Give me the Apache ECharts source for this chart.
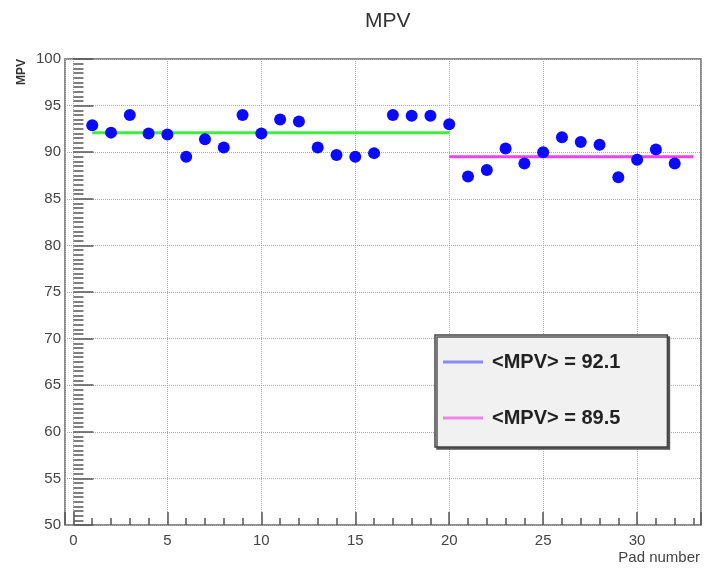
<!DOCTYPE html>
<html>
<head>
<meta charset="utf-8">
<script src="https://cdn.jsdelivr.net/npm/echarts@6/dist/echarts.min.js"></script>
<style>
    html, body { margin: 0; padding: 0; background: #fff; }
    #main { width: 704px; height: 570px; }
</style>
</head>
<body>
<div id="main"></div>
<script>
    // pad number -> MPV
    const padNumbers = [1, 2, 3, 4, 5, 6, 7, 8, 9, 10, 11, 12, 13, 14, 15, 16,
        17, 18, 19, 20, 21, 22, 23, 24, 25, 26, 27, 28, 29, 30, 31, 32];
    const mpvValues = [92.9, 92.1, 94.0, 92.0, 91.9, 89.5, 91.4, 90.5, 94.0, 92.0, 93.5, 93.3, 90.5, 89.7, 89.5, 89.9,
        94.0, 93.9, 93.9, 93.0, 87.4, 88.1, 90.4, 88.8, 90.0, 91.6, 91.1, 90.8, 87.3, 89.2, 90.3, 88.8];

    // fitted means and where they are drawn
    const meanValues = [92.1, 89.5];
    const fitFrom = [1, 20];
    const fitTo = [20, 33];
    const meanNames = ['<MPV> = 92.1', '<MPV> = 89.5'];
    const meanColors = ['#3fee3f', '#f040f0'];
    const legendColors = ['#8a8af0', '#ea88ea'];

    const font = 'Liberation Sans, Arial, sans-serif';
    const chart = echarts.init(document.getElementById('main'));

    const meanSeries = meanValues.map((v, i) => ({
        name: meanNames[i],
        type: 'line',
        data: [[fitFrom[i], v], [fitTo[i], v]],
        showSymbol: false,
        lineStyle: { color: meanColors[i], width: 3 },
        itemStyle: { color: meanColors[i] },
        z: 2
    }));

    const option = {
        animation: false,
        title: {
            text: 'MPV',
            left: 360,
            top: 6,
            textStyle: { fontFamily: font, fontSize: 21, fontWeight: 'normal', color: '#333' }
        },
        grid: {
            left: 65, right: 3, top: 59, bottom: 45,
            show: true,
            borderColor: '#666',
            borderWidth: 1.5
        },
        legend: {
            left: 435,
            top: 335,
            orient: 'vertical',
            data: meanNames.map((n, i) => ({ name: n, itemStyle: { color: legendColors[i] } })),
            icon: 'rect',
            itemWidth: 40,
            itemHeight: 3,
            itemGap: 36,
            padding: [17, 47, 19, 8],
            backgroundColor: '#f1f1f1',
            borderColor: '#444',
            borderWidth: 1.5,
            shadowColor: '#555',
            shadowOffsetX: 2,
            shadowOffsetY: 2,
            textStyle: { fontFamily: font, fontSize: 20, fontWeight: 'bold', color: '#222', padding: [0, 0, 0, 4] }
        },
        xAxis: {
            type: 'value',
            min: -0.45,
            max: 33.4,
            splitNumber: 7,
            axisLine: { show: false },
            axisTick: { inside: true, length: 13, lineStyle: { color: '#555', width: 1.5 } },
            minorTick: { show: true, splitNumber: 5, length: 7, lineStyle: { color: '#555', width: 1.5 } },
            axisLabel: {
                showMinLabel: false, showMaxLabel: false,
                fontFamily: font, fontSize: 15, color: '#444', margin: 8
            },
            splitLine: { show: true, lineStyle: { color: '#aaa', type: 'dotted', width: 1 } }
        },
        yAxis: {
            type: 'value',
            min: 50,
            max: 100,
            interval: 5,
            axisLine: { show: false },
            axisTick: { inside: true, length: 20, lineStyle: { color: '#555', width: 1.5 } },
            minorTick: { show: true, splitNumber: 10, length: 10, lineStyle: { color: '#555', width: 1.5 } },
            axisLabel: { fontFamily: font, fontSize: 15, color: '#444', margin: 4 },
            splitLine: { show: true, lineStyle: { color: '#aaa', type: 'dotted', width: 1 } }
        },
        graphic: [
            {
                type: 'text', x: 22, y: 72, rotation: Math.PI / 2,
                style: { text: 'MPV', font: 'bold 12px ' + font, fill: '#333', align: 'center', verticalAlign: 'middle' }
            },
            {
                type: 'text', x: 700, y: 558,
                style: { text: 'Pad number', font: '15px ' + font, fill: '#444', align: 'right', verticalAlign: 'middle' }
            }
        ],
        series: meanSeries.concat([{
            name: 'MPV',
            type: 'scatter',
            data: padNumbers.map((p, i) => [p, mpvValues[i]]),
            symbolSize: 12,
            itemStyle: { color: '#0a0aff', opacity: 1 },
            z: 3
        }])
    };

    chart.setOption(option);
</script>
</body>
</html>
